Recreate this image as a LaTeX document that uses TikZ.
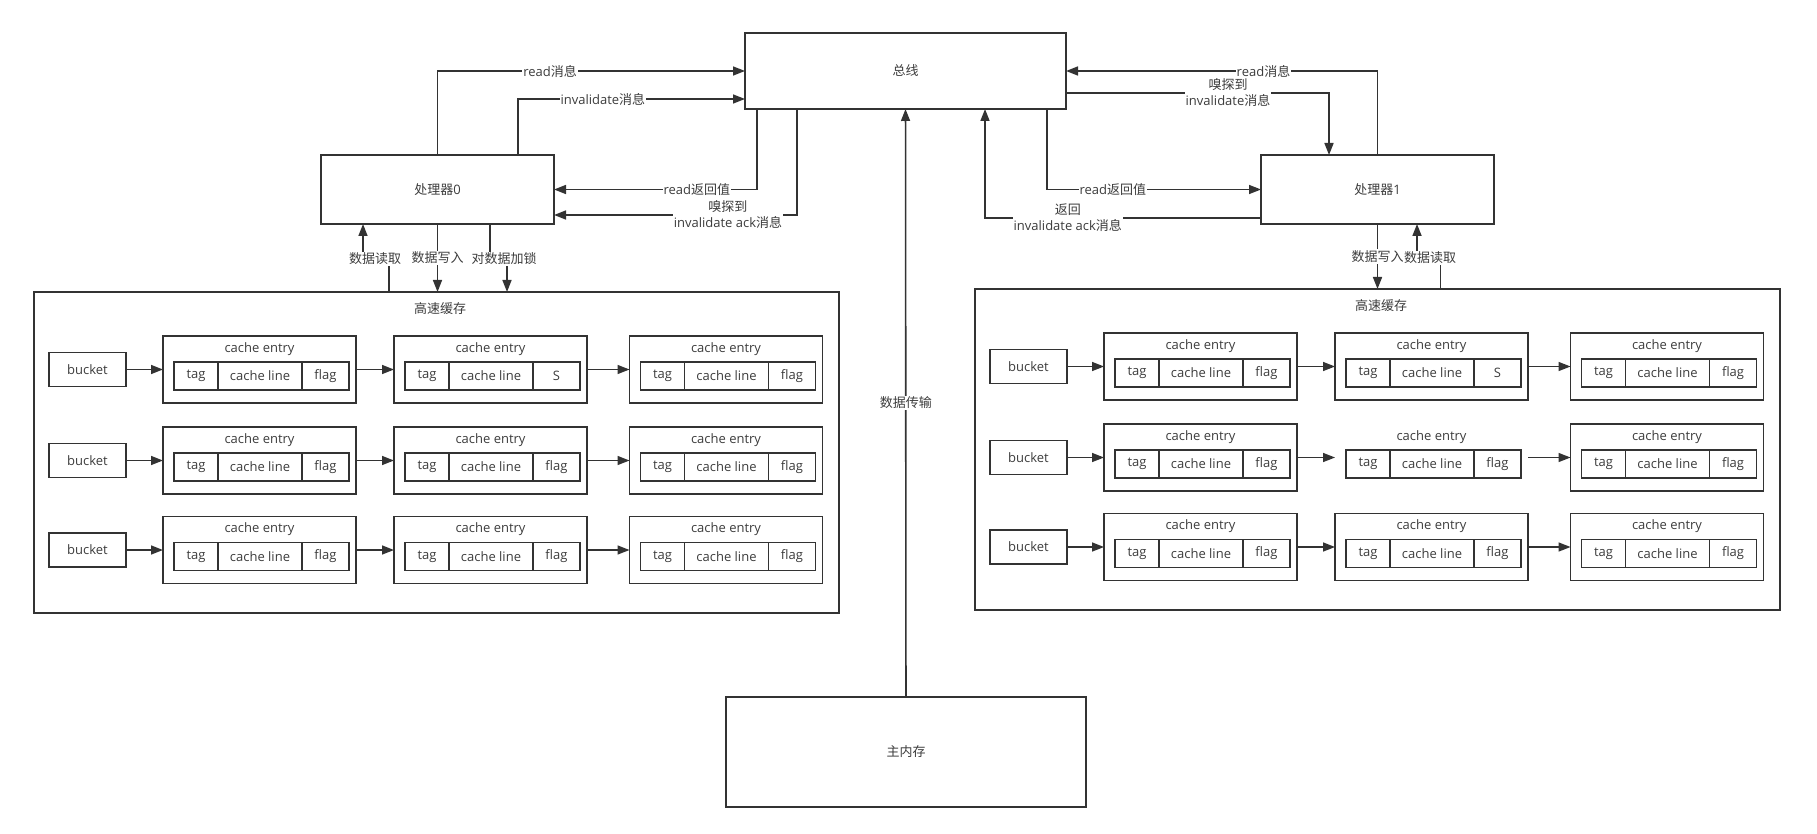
\documentclass[tikz,border=0pt]{standalone}
\usepackage{fontspec}
\setmainfont{Open Sans}
\newfontfamily\cjk{Noto Sans CJK SC}
\usetikzlibrary{arrows.meta}
\definecolor{linegray}{HTML}{333333}
\definecolor{textgray}{HTML}{3C3C3C}

\begin{document}
\begin{tikzpicture}[x=1pt, y=-1pt, line width=1.6pt, color=linegray, text=textgray,
  font=\fontsize{13}{16}\selectfont,
  box/.style={draw, rectangle, inner sep=0pt, outer sep=0pt},
  cell/.style={box, minimum height=28, anchor=west},
  entry/.style={box, minimum width=193, minimum height=67, draw opacity=#1},
  msg/.style={fill=white, inner sep=1pt, align=center},
  arr/.style={-{Triangle[length=12pt, width=9pt]}}]
\useasboundingbox (0,0) rectangle (1817,834);

\node[box, minimum width=321, minimum height=76] (bus) at (905.5,71) {\cjk 总线};
\node[box, minimum width=233, minimum height=69] (cpu0) at (437.5,189.5) {{\cjk 处理器}0};
\node[box, minimum width=233, minimum height=69] (cpu1) at (1377.5,189.5) {{\cjk 处理器}1};
\node[box, minimum width=360, minimum height=110] (mem) at (906,752) {\cjk 主内存};

\foreach \s/\dx/\dy/\gap in {L/0/0/1, R/941/-3/0} {
  \node[box, minimum width=805, minimum height=321] (\s-cache) at (436.5+\dx,452.5+\dy) {};
  \node (\s-title) at (440+\dx,309+\dy) {\cjk 高速缓存};
  \foreach \r/\y in {1/369.5, 2/460.5, 3/550} {
    \node[box, minimum width=77, minimum height=34] (\s-b\r) at (87.5+\dx,\y+\dy) {bucket};
    \foreach \c/\x in {1/259.5, 2/490.5, 3/726} {
      \ifnum\r\c=22 \def\op{\gap}\else\def\op{1}\fi
      \node[entry=\op] (\s-e\r\c) at (\x+\dx,\y+\dy) {};
      \node (\s-h\r\c) at ([yshift=20.5pt]\s-e\r\c.center) {cache entry};
      \node[cell, minimum width=44] (\s-t\r\c) at ([xshift=11pt,yshift=-6.5pt]\s-e\r\c.west) {tag};
      \node[cell, minimum width=84] (\s-l\r\c) at (\s-t\r\c.east) {cache line};
      \node[cell, minimum width=47] (\s-f\r\c) at (\s-l\r\c.east) {\ifnum\r\c=12 S\else flag\fi};
    }
    \draw[arr] (\s-b\r) -- (\s-e\r1);
    \draw[arr] (\s-e\r1) -- (\s-e\r2);
    \draw[arr] (\s-e\r2) -- (\s-e\r3);
  }
}

\draw[arr] (cpu0.north) |- node[msg, pos=0.683] {read{\cjk 消息}} (bus.west);
\draw[arr] ([xshift=80.5pt]cpu0.north) |- node[msg, pos=0.687] {invalidate{\cjk 消息}} ([yshift=-28pt]bus.west);
\draw[arr] ([xshift=-148.5pt]bus.south) |- node[msg, pos=0.648] {read{\cjk 返回值}} (cpu0.east);
\draw[arr] ([xshift=-108.5pt]bus.south) |- node[msg, pos=0.642] {{\cjk 嗅探到}\\invalidate ack{\cjk 消息}} ([yshift=-25.5pt]cpu0.east);

\draw[arr] (cpu1.north) |- node[msg, pos=0.683] {read{\cjk 消息}} (bus.east);
\draw[arr] ([yshift=-22pt]bus.east) -| node[msg, pos=0.308] {{\cjk 嗅探到}\\invalidate{\cjk 消息}} ([xshift=-48.5pt]cpu1.north);
\draw[arr] ([xshift=141.5pt]bus.south) |- node[msg, pos=0.654] {read{\cjk 返回值}} (cpu1.west);
\draw[arr] ([yshift=-28.5pt]cpu1.west) -| node[msg, pos=0.35] {{\cjk 返回}\\invalidate ack{\cjk 消息}} ([xshift=79.5pt]bus.south);

\draw[arr] (mem) -- node[msg] {\cjk 数据传输} (bus);

\coordinate (rd0) at (375,259);
\coordinate (lk0) at (504,259);
\coordinate (rd1) at (1430,258);
\draw[arr] ([xshift=-47.5pt]L-cache.north) |- (rd0) node[msg] {\cjk 数据读取} -| ([xshift=-74.5pt]cpu0.south);
\draw[arr] (cpu0.south) -- node[msg] {\cjk 数据写入} (cpu0.south |- L-cache.north);
\draw[arr] ([xshift=52.5pt]cpu0.south) |- (lk0) node[msg] {\cjk 对数据加锁} -| ([xshift=70.5pt]L-cache.north);
\draw[arr] (cpu1.south) -- node[msg] {\cjk 数据写入} (cpu1.south |- R-cache.north);
\draw[arr] ([xshift=63pt]R-cache.north) |- (rd1) node[msg] {\cjk 数据读取} -| ([xshift=39.5pt]cpu1.south);
\end{tikzpicture}
\end{document}
